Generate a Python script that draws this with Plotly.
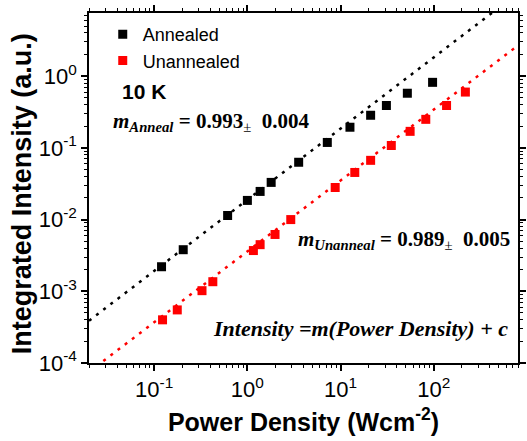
import plotly.graph_objects as go
import numpy as np

# Data
annealed_power = [0.12, 0.205, 0.614, 1.0, 1.37, 1.80, 3.55, 7.2, 12.6, 21, 31, 52, 97]
annealed_intensity = [0.0022, 0.0038, 0.0114, 0.0185, 0.0247, 0.033, 0.063, 0.119, 0.194, 0.285, 0.39, 0.578, 0.82]

unannealed_power = [0.123, 0.177, 0.326, 0.426, 1.16, 1.37, 1.98, 2.92, 8.75, 14.2, 21, 35, 55.7, 82, 137, 218]
unannealed_intensity = [4.0e-4, 5.5e-4, 1.02e-3, 1.36e-3, 3.7e-3, 4.47e-3, 6.2e-3, 0.010, 0.028, 0.0454, 0.067, 0.108, 0.17, 0.25, 0.39, 0.60]

# Fit results (slope m, prefactor A) for the dotted lines
fit_anneal = (0.993, 0.0189)
fit_unanneal = (0.989, 0.0036)
fit_x_range = [0.02, 800]

x_tick_labels = ["10<sup>-1</sup>", "10<sup>0</sup>", "10<sup>1</sup>", "10<sup>2</sup>"]
x_tick_vals = [0.1, 1, 10, 100]
y_tick_labels = ["10<sup>-4</sup>", "10<sup>-3</sup>", "10<sup>-2</sup>", "10<sup>-1</sup>", "10<sup>0</sup>"]
y_tick_vals = [1e-4, 1e-3, 1e-2, 1e-1, 1]

fig = go.Figure()

def fit_line(params):
    m, a = params
    xs = np.array(fit_x_range)
    return xs, a * xs ** m

for params, color in [(fit_anneal, "black"), (fit_unanneal, "#ff0000")]:
    xs, ys = fit_line(params)
    fig.add_trace(go.Scatter(x=xs, y=ys, mode="lines", showlegend=False,
                             line=dict(color=color, width=2.5, dash="3px,6px"),
                             hoverinfo="skip"))

fig.add_trace(go.Scatter(x=annealed_power, y=annealed_intensity, mode="markers", name="Annealed",
                         marker=dict(symbol="square", size=9, color="black")))
fig.add_trace(go.Scatter(x=unannealed_power, y=unannealed_intensity, mode="markers", name="Unannealed",
                         marker=dict(symbol="square", size=9, color="#ff0000")))

axis_common = dict(
    type="log", showline=True, linecolor="black", linewidth=1.5, mirror="ticks",
    ticks="outside", ticklen=6, tickwidth=1.5, tickcolor="black",
    showgrid=False, zeroline=False,
    tickfont=dict(family="Liberation Sans, Arial", size=22, color="black"),
    minor=dict(ticks="outside", ticklen=3, tickwidth=1, tickcolor="black", dtick="D1", showgrid=False),
)

fig.update_xaxes(**axis_common, range=[np.log10(0.02), np.log10(800)],
                 tickmode="array", tickvals=x_tick_vals, ticktext=x_tick_labels,
                 title=dict(text="<b>Power Density (Wcm<sup>-2</sup>)</b>",
                            font=dict(family="Liberation Sans, Arial", size=25, color="black"),
                            standoff=12))
fig.update_yaxes(**axis_common, range=[-4, np.log10(7.6)],
                 tickmode="array", tickvals=y_tick_vals, ticktext=y_tick_labels)

# y-axis title as a rotated annotation (positioned like the reference)
fig.add_annotation(xref="paper", yref="paper", x=-(89 - 21) / 437, y=1 - (194 - 13) / 350,
                   xanchor="center", yanchor="middle", textangle=-90, showarrow=False,
                   text="<b>Integrated Intensity (a.u.)</b>",
                   font=dict(family="Liberation Sans, Arial", size=27, color="black"))

serif = "Liberation Serif, Times New Roman"
fig.add_annotation(xref="paper", yref="paper", x=(121 - 89) / 437, y=1 - (91 - 13) / 350,
                   xanchor="left", yanchor="middle", showarrow=False,
                   text="<b>10 K</b>", font=dict(family="Liberation Sans, Arial", size=21, color="black"))
fig.add_annotation(xref="paper", yref="paper", x=(111 - 89) / 437, y=1 - (122 - 13) / 350,
                   xanchor="left", yanchor="middle", showarrow=False,
                   text="<b><i>m</i></b><sub><b><i>Anneal</i></b></sub><b> = 0.993</b><sub>±</sub><b>  0.004</b>",
                   font=dict(family=serif, size=21, color="black"))
fig.add_annotation(xref="paper", yref="paper", x=(520 - 89) / 437, y=1 - (240 - 13) / 350,
                   xanchor="right", yanchor="middle", showarrow=False,
                   text="<b><i>m</i></b><sub><b><i>Unanneal</i></b></sub><b> = 0.989</b><sub>±</sub><b>  0.005</b>",
                   font=dict(family=serif, size=21, color="black"))
fig.add_annotation(xref="paper", yref="paper", x=(518 - 89) / 437, y=1 - (328 - 13) / 350,
                   xanchor="right", yanchor="middle", showarrow=False,
                   text="<b><i>Intensity =m(Power Density) + c</i></b>",
                   font=dict(family=serif, size=22, color="black"))

fig.update_layout(
    width=527, height=441,
    margin=dict(l=89, r=1, t=13, b=78),
    paper_bgcolor="white", plot_bgcolor="white",
    legend=dict(x=(103 - 89) / 437, y=1 - (16 - 13) / 350, xanchor="left", yanchor="top",
                bgcolor="rgba(0,0,0,0)", font=dict(family="Liberation Sans, Arial", size=18, color="black"),
                tracegroupgap=0, itemwidth=30),
)

fig.write_html("out.html")
